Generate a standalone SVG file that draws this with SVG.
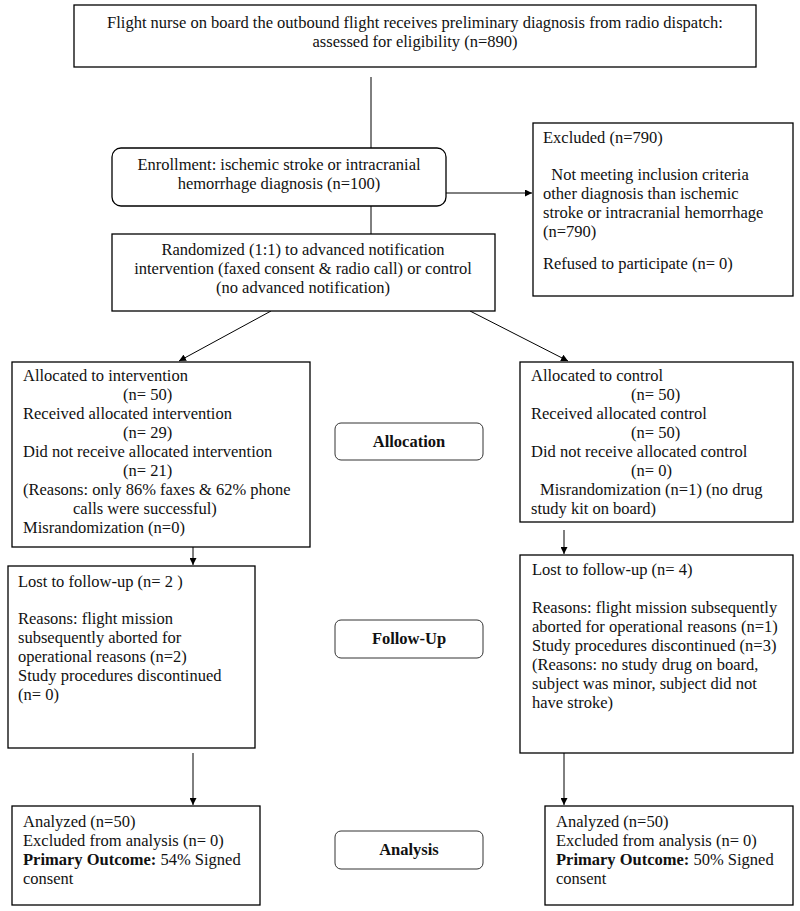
<svg xmlns="http://www.w3.org/2000/svg" width="800" height="911" viewBox="0 0 800 911">
<style>
.box{fill:#fff;stroke:#000;stroke-width:1.3}
.lbl{fill:#fff;stroke:#333;stroke-width:1}
.t{font-family:"Liberation Serif","Times New Roman",serif;font-size:16.5px;fill:#111}
.c{text-anchor:middle}
.b{font-weight:bold}
.ln{stroke:#000;stroke-width:1;fill:none}
</style>
<defs>
<marker id="ah" viewBox="0 0 10 10" refX="10" refY="5" markerWidth="7" markerHeight="7" markerUnits="userSpaceOnUse" orient="auto">
<path d="M0,0 L10,5 L0,10 z" fill="#000"/>
</marker>
</defs>
<rect width="800" height="911" fill="#fff"/>
<g id="connectors">
<line class="ln" x1="371" y1="77" x2="371" y2="148"/>
<line class="ln" x1="371" y1="206" x2="371" y2="234"/>
<line class="ln" x1="446" y1="193" x2="532" y2="193" marker-end="url(#ah)"/>
<line class="ln" x1="271" y1="311" x2="179" y2="361" marker-end="url(#ah)"/>
<line class="ln" x1="470" y1="311" x2="568" y2="361" marker-end="url(#ah)"/>
<line class="ln" x1="193" y1="530" x2="193" y2="565" marker-end="url(#ah)"/>
<line class="ln" x1="564" y1="530" x2="564" y2="554" marker-end="url(#ah)"/>
<line class="ln" x1="193" y1="753" x2="193" y2="805" marker-end="url(#ah)"/>
<line class="ln" x1="564" y1="753" x2="564" y2="805" marker-end="url(#ah)"/>
</g>
<g id="eligibility">
<rect class="box" x="74" y="5" width="682" height="62"/>
<text class="t c" x="415" y="28">Flight nurse on board the outbound flight receives preliminary diagnosis from radio dispatch:</text>
<text class="t c" x="415" y="47">assessed for eligibility (n=890)</text>
</g>
<g id="enrollment">
<rect class="box" x="112" y="148" width="334" height="58" rx="9"/>
<text class="t c" x="279" y="170">Enrollment: ischemic stroke or intracranial</text>
<text class="t c" x="279" y="189">hemorrhage diagnosis (n=100)</text>
</g>
<g id="excluded">
<rect class="box" x="533" y="123" width="260" height="173"/>
<text class="t" x="543" y="143">Excluded (n=790)</text>
<text class="t" x="543" y="180" xml:space="preserve">  Not meeting inclusion criteria</text>
<text class="t" x="543" y="199">other diagnosis than ischemic</text>
<text class="t" x="543" y="218">stroke or intracranial hemorrhage</text>
<text class="t" x="543" y="237">(n=790)</text>
<text class="t" x="543" y="269">Refused to participate (n= 0)</text>
</g>
<g id="randomized">
<rect class="box" x="112" y="234" width="383" height="77"/>
<text class="t c" x="303" y="255">Randomized (1:1) to advanced notification</text>
<text class="t c" x="303" y="274">intervention (faxed consent &amp; radio call) or control</text>
<text class="t c" x="303" y="293">(no advanced notification)</text>
</g>
<g id="alloc-intervention">
<rect class="box" x="12" y="362" width="298" height="185"/>
<text class="t" x="23" y="381">Allocated to intervention</text>
<text class="t" x="123" y="400">(n= 50)</text>
<text class="t" x="23" y="419">Received allocated intervention</text>
<text class="t" x="123" y="438">(n= 29)</text>
<text class="t" x="23" y="457">Did not receive allocated intervention</text>
<text class="t" x="123" y="476">(n= 21)</text>
<text class="t" x="23" y="495">(Reasons: only 86% faxes &amp; 62% phone</text>
<text class="t" x="73" y="514">calls were successful)</text>
<text class="t" x="23" y="533">Misrandomization (n=0)</text>
</g>
<g id="allocation-label">
<rect class="lbl" x="335" y="423" width="148" height="37" rx="6"/>
<text class="t c b" x="409" y="447">Allocation</text>
</g>
<g id="alloc-control">
<rect class="box" x="520" y="362" width="273" height="160"/>
<text class="t" x="531" y="381">Allocated to control</text>
<text class="t" x="631" y="400">(n= 50)</text>
<text class="t" x="531" y="419">Received allocated control</text>
<text class="t" x="631" y="438">(n= 50)</text>
<text class="t" x="531" y="457">Did not receive allocated control</text>
<text class="t" x="631" y="476">(n= 0)</text>
<text class="t" x="540" y="495">Misrandomization (n=1) (no drug</text>
<text class="t" x="531" y="514">study kit on board)</text>
</g>
<g id="followup-intervention">
<rect class="box" x="8" y="566" width="247" height="182"/>
<text class="t" x="18" y="587">Lost to follow-up (n= 2 )</text>
<text class="t" x="18" y="624">Reasons: flight mission</text>
<text class="t" x="18" y="643">subsequently aborted for</text>
<text class="t" x="18" y="662">operational reasons (n=2)</text>
<text class="t" x="18" y="681">Study procedures discontinued</text>
<text class="t" x="18" y="700">(n= 0)</text>
</g>
<g id="followup-label">
<rect class="lbl" x="335" y="620" width="148" height="38" rx="6"/>
<text class="t c b" x="409" y="644">Follow-Up</text>
</g>
<g id="followup-control">
<rect class="box" x="520" y="555" width="273" height="198"/>
<text class="t" x="532" y="575">Lost to follow-up (n= 4)</text>
<text class="t" x="532" y="613">Reasons: flight mission subsequently</text>
<text class="t" x="532" y="632">aborted for operational reasons (n=1)</text>
<text class="t" x="532" y="651">Study procedures discontinued (n=3)</text>
<text class="t" x="532" y="670">(Reasons: no study drug on board,</text>
<text class="t" x="532" y="689">subject was minor, subject did not</text>
<text class="t" x="532" y="708">have stroke)</text>
</g>
<g id="analysis-intervention">
<rect class="box" x="12" y="806" width="248" height="99"/>
<text class="t" x="23" y="827">Analyzed (n=50)</text>
<text class="t" x="23" y="846">Excluded from analysis (n= 0)</text>
<text class="t" x="23" y="865"><tspan class="b">Primary Outcome:</tspan> 54% Signed</text>
<text class="t" x="23" y="884">consent</text>
</g>
<g id="analysis-label">
<rect class="lbl" x="335" y="831" width="148" height="38" rx="6"/>
<text class="t c b" x="409" y="855">Analysis</text>
</g>
<g id="analysis-control">
<rect class="box" x="545" y="806" width="248" height="99"/>
<text class="t" x="556" y="827">Analyzed (n=50)</text>
<text class="t" x="556" y="846">Excluded from analysis (n= 0)</text>
<text class="t" x="556" y="865"><tspan class="b">Primary Outcome:</tspan> 50% Signed</text>
<text class="t" x="556" y="884">consent</text>
</g>
</svg>
